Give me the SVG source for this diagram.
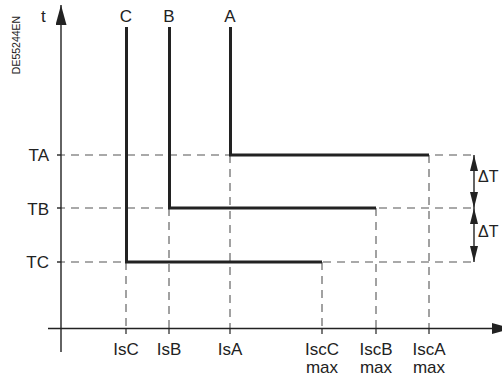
<svg xmlns="http://www.w3.org/2000/svg" width="502" height="378" viewBox="0 0 502 378">
<style>
text{font-family:"Liberation Sans",Arial,sans-serif;font-size:17px;fill:#222}
.lbl{text-anchor:middle}
.dash{stroke:#555;stroke-width:1.1;stroke-dasharray:8 6;fill:none}
.axis{stroke:#222;stroke-width:1.4;fill:none}
.curve{stroke:#222;stroke-width:3;fill:none}
.tick{stroke:#222;stroke-width:1.2}
</style>
<defs>
<marker id="ah" viewBox="0 0 20 11" refX="20" refY="5.5" markerWidth="20" markerHeight="11" markerUnits="userSpaceOnUse" orient="auto">
<path d="M0,0 L20,5.5 L0,11 Z" fill="#222"/>
</marker>
<marker id="dh" viewBox="0 0 16 8" refX="16" refY="4" markerWidth="16" markerHeight="8" markerUnits="userSpaceOnUse" orient="auto-start-reverse">
<path d="M0,0 L16,4 L0,8 Z" fill="#222"/>
</marker>
</defs>
<text transform="translate(20,45) rotate(-90)" style="font-size:10.5px" text-anchor="middle">DE55244EN</text>
<g id="connectors">
<path class="dash" d="M57,155 H472 M57,208 H472 M57,262 H472"/>
<path class="dash" d="M126,262 V328 M169,208 V328 M230,155 V328 M322,262 V328 M376,208 V328 M429,155 V328"/>
<path class="axis" d="M61,352 V5" marker-end="url(#ah)"/>
<path class="axis" d="M48,328.5 H512" marker-end="url(#ah)"/>
<path class="tick" d="M57,155 H61 M57,208 H61 M57,262 H61 M126,328 V334 M169,328 V334 M230,328 V334 M322,328 V334 M376,328 V334 M429,328 V334"/>
<path class="axis" d="M474,155 V208" marker-start="url(#dh)" marker-end="url(#dh)"/>
<path class="axis" d="M474,208 V262" marker-start="url(#dh)" marker-end="url(#dh)"/>
</g>
<g id="curveC"><path class="curve" d="M126.5,27 V262 H322"/><text class="lbl" x="126" y="22">C</text></g>
<g id="curveB"><path class="curve" d="M169.5,27 V208 H376"/><text class="lbl" x="169" y="22">B</text></g>
<g id="curveA"><path class="curve" d="M230.5,27 V155 H429"/><text class="lbl" x="230" y="22">A</text></g>
<g id="labels-y">
<text x="41" y="22">t</text>
<text x="49" y="161" text-anchor="end">TA</text>
<text x="49" y="215" text-anchor="end">TB</text>
<text x="49" y="268" text-anchor="end">TC</text>
<text x="478" y="182" style="font-size:16px">ΔT</text>
<text x="478" y="237" style="font-size:16px">ΔT</text>
</g>
<g id="labels-x">
<text class="lbl" x="126" y="355">IsC</text>
<text class="lbl" x="169" y="355">IsB</text>
<text class="lbl" x="230" y="355">IsA</text>
<text class="lbl" x="322" y="355">IscC</text>
<text class="lbl" x="322" y="373">max</text>
<text class="lbl" x="376" y="355">IscB</text>
<text class="lbl" x="376" y="373">max</text>
<text class="lbl" x="429" y="355">IscA</text>
<text class="lbl" x="429" y="373">max</text>
</g>
</svg>
